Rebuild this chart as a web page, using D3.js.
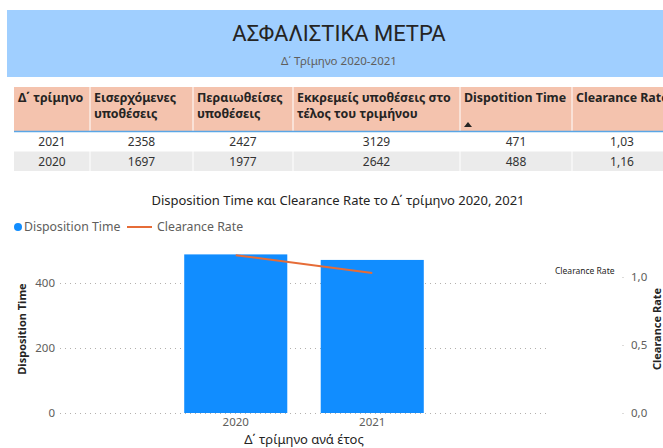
<!DOCTYPE html>
<html>
<head>
<meta charset="utf-8">
<script src="https://cdn.jsdelivr.net/npm/d3@7"></script>
<style>
  body { margin: 0; background: #fff; }
  svg { display: block; font-family: "Noto Sans", "Open Sans", sans-serif; }
</style>
</head>
<body>
<div id="page"></div>
<script>
// data from the table (rows in the order shown)
var years = ["2021", "2020"];
var incoming = [2358, 1697];
var resolved = [2427, 1977];
var pending = [3129, 2642];
var dispTime = [471, 488];
var clearance = [1.03, 1.16];

var headers = [
  ["Δ΄ τρίμηνο"],
  ["Εισερχόμενες", "υποθέσεις"],
  ["Περαιωθείσες", "υποθέσεις"],
  ["Εκκρεμείς υποθέσεις στο", "τέλος του τριμήνου"],
  ["Dispotition Time"],
  ["Clearance Rate"]
];
var yTicksLeft = [0, 200, 400];
var yTicksRight = [0, 0.5, 1.0];

var W = 663, H = 448;
var svg = d3.select("#page").append("svg").attr("width", W).attr("height", H);
var fmtComma = function(v, d){ return v.toFixed(d).replace(".", ","); };

// ---- header band
svg.append("rect").attr("x", 7).attr("y", 10).attr("width", W - 7).attr("height", 67)
   .attr("fill", "#A0CFFF");
svg.append("text").attr("x", 339).attr("y", 41).attr("text-anchor", "middle")
   .style("font-family", "Roboto, sans-serif").style("font-weight", 400)
   .style("font-size", "22px").attr("fill", "#252423").text("ΑΣΦΑΛΙΣΤΙΚΑ ΜΕΤΡΑ");
svg.append("text").attr("x", 339).attr("y", 65).attr("text-anchor", "middle")
   .style("font-size", "11.5px").attr("fill", "#605E5C").text("Δ΄ Τρίμηνο 2020-2021");

// ---- table
var colEdges = [14, 90, 193, 293, 460, 572, 680];
var rows = years.map(function(y, i){
  return [y, incoming[i], resolved[i], pending[i], dispTime[i], fmtComma(clearance[i], 2)];
});
var table = svg.append("g");
table.append("rect").attr("x", 14).attr("y", 87).attr("width", W - 14).attr("height", 45)
     .attr("fill", "#F4C3AE");
table.selectAll("line.div").data(colEdges.slice(1, 6)).enter().append("line")
     .attr("x1", function(d){ return d; }).attr("x2", function(d){ return d; })
     .attr("y1", 87).attr("y2", 171).attr("stroke", "#ffffff").attr("stroke-width", 1);
headers.forEach(function(lines, c){
  var t = table.append("text").attr("x", colEdges[c] + 4).attr("y", 102)
     .style("font-size", "12.4px").style("font-weight", 700).attr("fill", "#252423");
  lines.forEach(function(l, k){
    t.append("tspan").attr("x", colEdges[c] + 4).attr("dy", k ? 16 : 0).text(l);
  });
});
table.append("path").attr("d", "M464,127 L468,122 L472,127 Z").attr("fill", "#252423");
table.append("line").attr("x1", 14).attr("x2", W).attr("y1", 131.5).attr("y2", 131.5)
     .attr("stroke", "#5AA6E6").attr("stroke-width", 1.5);
rows.forEach(function(r, i){
  var y0 = 132 + i * 19.5;
  if (i % 2 === 1) {
    table.insert("rect", "line").attr("x", 14).attr("y", y0).attr("width", W - 14).attr("height", 19.5)
         .attr("fill", "#EBEBEB");
  }
  r.forEach(function(v, c){
    table.append("text").attr("x", (colEdges[c] + Math.min(colEdges[c + 1], 672)) / 2)
         .attr("y", y0 + 14).attr("text-anchor", "middle")
         .style("font-size", "12px").attr("fill", "#333333").text(v);
  });
});

// ---- chart
svg.append("text").attr("x", 338).attr("y", 205).attr("text-anchor", "middle")
   .style("font-size", "13px").attr("fill", "#252423")
   .text("Disposition Time και Clearance Rate το Δ΄ τρίμηνο 2020, 2021");

var lg = svg.append("g").attr("transform", "translate(0,231)");
lg.append("circle").attr("cx", 18).attr("cy", -4).attr("r", 4).attr("fill", "#118DFF");
lg.append("text").attr("x", 24).attr("y", 0).style("font-size", "12.3px").attr("fill", "#605E5C")
  .text("Disposition Time");
lg.append("line").attr("x1", 127).attr("x2", 152).attr("y1", -4).attr("y2", -4)
  .attr("stroke", "#E66C37").attr("stroke-width", 2);
lg.append("text").attr("x", 157).attr("y", 0).style("font-size", "12.3px").attr("fill", "#605E5C")
  .text("Clearance Rate");

var chartYears = years.slice().reverse();
var chartDisp = dispTime.slice().reverse();
var chartClear = clearance.slice().reverse();

var x = d3.scaleBand().domain(chartYears).range([60, 548]).paddingInner(0.245).paddingOuter(0.91);
var yL = d3.scaleLinear().domain([0, 400]).range([413, 283]);
var yR = d3.scaleLinear().domain([0, 1]).range([413, 277]);

var grid = svg.append("g");
grid.selectAll("line").data(yTicksLeft).enter().append("line")
    .attr("x1", 60).attr("x2", 548)
    .attr("y1", function(d){ return yL(d) + 0.5; }).attr("y2", function(d){ return yL(d) + 0.5; })
    .attr("stroke", "#B3B0AD").attr("stroke-dasharray", "1,4");

var axL = svg.append("g").attr("transform", "translate(55,0)")
  .call(d3.axisLeft(yL).tickValues(yTicksLeft).tickSize(0).tickPadding(0));
axL.select(".domain").remove();
axL.selectAll("text").style("font-size", "11.5px").attr("fill", "#605E5C")
   .style("font-family", "'Noto Sans', sans-serif");

var axR = svg.append("g").attr("transform", "translate(631,0)")
  .call(d3.axisRight(yR).tickValues(yTicksRight).tickSize(0).tickPadding(0)
        .tickFormat(function(d){ return fmtComma(d, 1); }));
axR.select(".domain").remove();
axR.selectAll("text").style("font-size", "11.5px").attr("fill", "#605E5C")
   .style("font-family", "'Noto Sans', sans-serif");
svg.append("g").selectAll("circle").data(yTicksRight).enter().append("circle")
   .attr("cx", 623).attr("cy", function(d){ return yR(d) + 0.5; }).attr("r", 0.6).attr("fill", "#B3B0AD");

svg.selectAll("rect.bar").data(chartYears).enter().append("rect").attr("class", "bar")
   .attr("x", function(d){ return x(d); }).attr("width", x.bandwidth())
   .attr("y", function(d, i){ return yL(chartDisp[i]); })
   .attr("height", function(d, i){ return yL(0) - yL(chartDisp[i]); })
   .attr("fill", "#118DFF");

var line = d3.line()
  .x(function(d, i){ return x(chartYears[i]) + x.bandwidth() / 2; })
  .y(function(d){ return yR(d); });
svg.append("path").datum(chartClear).attr("d", line)
   .attr("fill", "none").attr("stroke", "#E66C37").attr("stroke-width", 2);

svg.append("text").attr("x", 555).attr("y", 274).style("font-size", "8.5px").attr("fill", "#252423")
   .text("Clearance Rate");

var xAx = svg.append("g").attr("transform", "translate(0,416)")
  .call(d3.axisBottom(x).tickSize(0).tickPadding(0));
xAx.select(".domain").remove();
xAx.selectAll("text").attr("dy", "0.9em").style("font-size", "11.5px").attr("fill", "#605E5C")
   .style("font-family", "'Noto Sans', sans-serif");

svg.append("text").attr("x", 304).attr("y", 444).attr("text-anchor", "middle")
   .style("font-size", "13px").attr("fill", "#252423").text("Δ΄ τρίμηνο ανά έτος");

svg.append("text").attr("transform", "translate(26,329) rotate(-90)").attr("text-anchor", "middle")
   .style("font-size", "11px").style("font-weight", 700).attr("fill", "#252423").text("Disposition Time");
svg.append("text").attr("transform", "translate(661,329) rotate(-90)").attr("text-anchor", "middle")
   .style("font-size", "11px").style("font-weight", 700).attr("fill", "#252423").text("Clearance Rate");
</script>
</body>
</html>
